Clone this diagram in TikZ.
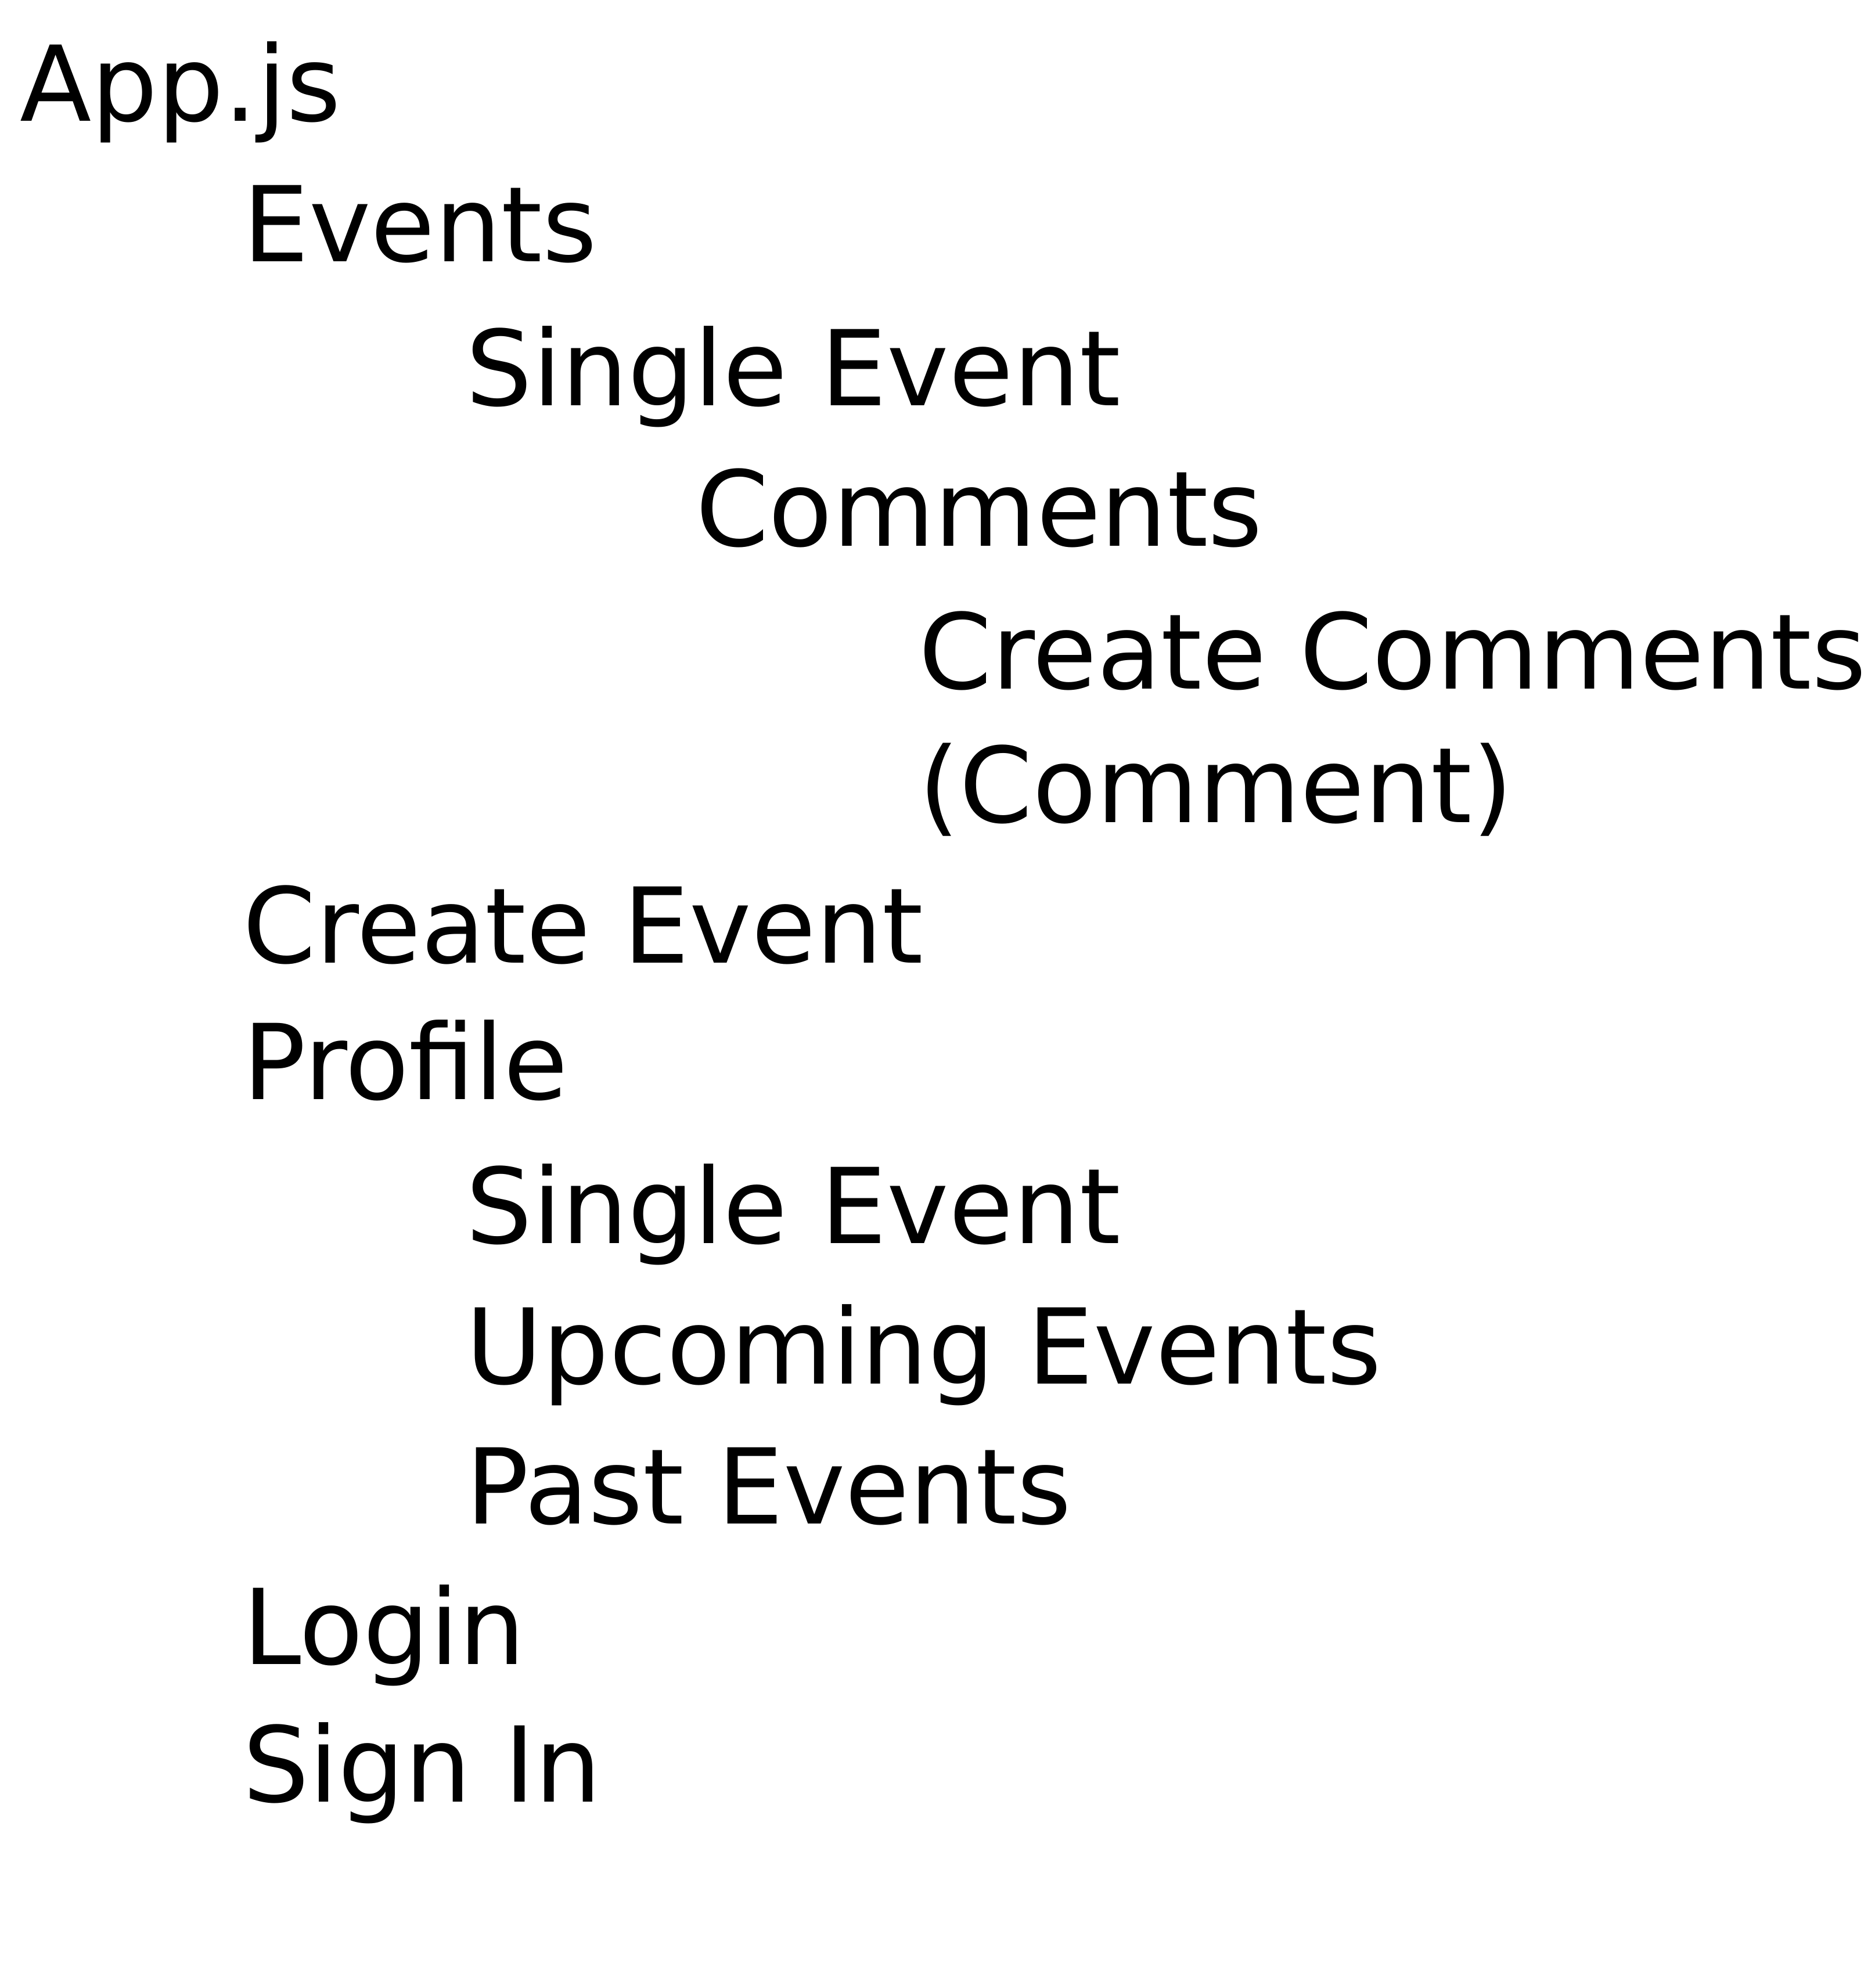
\documentclass[tikz,border=0pt]{standalone}
\usepackage{fontspec}
\setmainfont{DejaVu Sans}
\newcommand{\handfont}{\fontsize{61.5}{74}\selectfont}

\tikzset{every picture/.style={line width=0.75pt}}

\begin{document}
\begin{tikzpicture}[x=0.75pt,y=0.75pt,yscale=-1,xscale=1,
	item/.style={anchor=base west,inner sep=0pt,font=\handfont}]
	%set diagram size to the page
	\path[use as bounding box,fill=white] (0,0) rectangle (1470,1558.8);
	
	\draw (15,95) node [item] (app) {App.js};
	\draw (190,205) node [item] (events) {Events};
	\draw (365,318) node [item] (single) {Single Event};
	\draw (545,428) node [item] (comments) {Comments};
	\draw (720,540) node [item] (createcom) {Create Comments};
	\draw (720,645) node [item] (comment) {(Comment)};
	\draw (190,755) node [item] (createev) {Create Event};
	\draw (190,862) node [item] (profile) {Profile};
	\draw (365,975) node [item] (singletwo) {Single Event};
	\draw (365,1085) node [item] (upcoming) {Upcoming Events};
	\draw (365,1195) node [item] (past) {Past Events};
	\draw (190,1305) node [item] (login) {Login};
	\draw (190,1413) node [item] (signin) {Sign In};
	
\end{tikzpicture}
\end{document}
